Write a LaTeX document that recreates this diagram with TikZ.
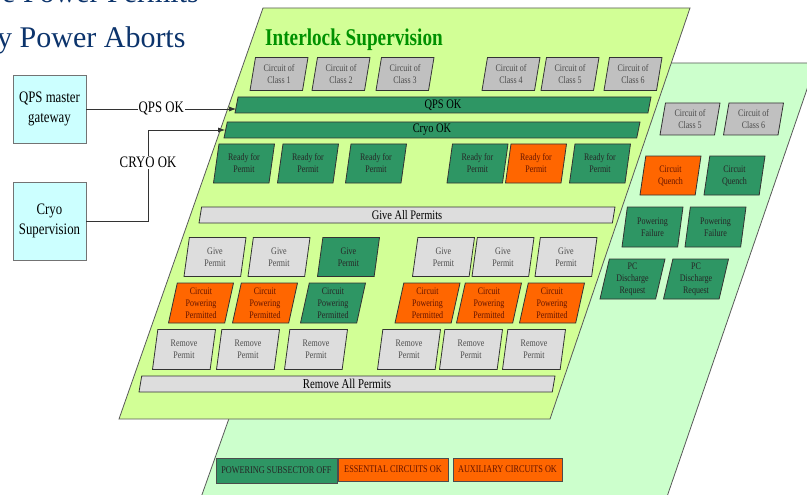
\documentclass[tikz,border=0pt]{standalone}
\usepackage{fontspec}
\setmainfont{Liberation Serif}
\newfontfamily\dfont[FakeStretch=0.8]{Liberation Serif}
\usetikzlibrary{shapes.geometric,arrows.meta}
\definecolor{frontgreen}{RGB}{210,255,150}
\definecolor{backgreen}{RGB}{204,255,204}
\definecolor{permitgreen}{RGB}{46,150,100}
\definecolor{permitorange}{RGB}{255,102,0}
\definecolor{classgray}{RGB}{192,192,192}
\definecolor{permitgray}{RGB}{221,221,221}
\definecolor{gatecyan}{RGB}{204,255,255}
\definecolor{slidenavy}{RGB}{12,52,108}
\definecolor{titlegreen}{RGB}{0,145,0}
\definecolor{orangetext}{RGB}{100,20,0}
\newcommand\boxfont{\dfont\fontsize{10}{12}\selectfont}

\begin{document}
\begin{tikzpicture}[x=1pt,y=-1pt,
  plane/.style={draw=black!65,line width=0.8pt},
  pbox/.style={trapezium,trapezium left angle=74,trapezium right angle=106,
    trapezium stretches body=true,draw=black!80,line width=0.8pt,inner sep=0pt,
    align=center,minimum width=62,minimum height=39,font=\boxfont},
  classbox/.style={pbox,fill=classgray,text=black!70,minimum width=58,minimum height=33},
  greybox/.style={pbox,fill=permitgray,text=black!70},
  greenbox/.style={pbox,fill=permitgreen,text=black!85},
  orangebox/.style={pbox,fill=permitorange,text=orangetext},
  bar/.style={pbox,minimum width=416,minimum height=16,font=\dfont\fontsize{13}{14}\selectfont},
  gate/.style={rectangle,draw=black!55,line width=0.8pt,fill=gatecyan,minimum width=73,
    align=center,font=\dfont\fontsize{16}{20}\selectfont},
  legend/.style={rectangle,draw=black!70,line width=0.8pt,inner sep=1pt,
    font=\dfont\fontsize{10.3}{12}\selectfont},
  conn/.style={draw=black!80,line width=0.8pt,-{Latex[length=7pt,width=5pt]}},
  connlabel/.style={fill=white,inner sep=1pt,font=\dfont\fontsize{16}{18}\selectfont}]

\useasboundingbox (0,0) rectangle (807,495);

% slide title, cut by the page edge
\node[anchor=base west,inner sep=0,text=slidenavy,font=\fontsize{30}{36}\selectfont] (title1) at (2,3) {e Power Permits};
\node[anchor=base west,inner sep=0,text=slidenavy,font=\fontsize{30}{36}\selectfont] (title2) at (-3,48) {y Power Aborts};

% the two planes
\draw[plane,fill=backgreen] (355,63) -- (816,63) -- (659,520) -- (193,520) -- cycle;
\draw[plane,fill=frontgreen] (263,8) -- (690,8) -- (550,419) -- (119,419) -- cycle;

\node[anchor=base west,inner sep=0,text=titlegreen,font=\dfont\bfseries\fontsize{24}{28}\selectfont] (interlock) at (265,46) {Interlock Supervision};

% circuit classes
\node[classbox] (class1) at (279,74) {Circuit of\\Class 1};
\node[classbox] (class2) at (341,74) {Circuit of\\Class 2};
\node[classbox] (class3) at (405,74) {Circuit of\\Class 3};
\node[classbox] (class4) at (511,74) {Circuit of\\Class 4};
\node[classbox] (class5) at (570,74) {Circuit of\\Class 5};
\node[classbox] (class6) at (633,74) {Circuit of\\Class 6};

\node[bar,fill=permitgreen] (qpsbar) at (443,105) {QPS OK};
\node[bar,fill=permitgreen] (cryobar) at (432,130) {Cryo OK};

% ready for permit
\node[greenbox,minimum width=61] (ready1) at (244,163.5) {Ready for\\Permit};
\node[greenbox,minimum width=61] (ready2) at (308,163.5) {Ready for\\Permit};
\node[greenbox,minimum width=61] (ready3) at (376,163.5) {Ready for\\Permit};
\node[greenbox,minimum width=61] (ready4) at (477.5,163.5) {Ready for\\Permit};
\node[orangebox,minimum width=61] (ready5) at (536,163.5) {Ready for\\Permit};
\node[greenbox,minimum width=61] (ready6) at (600,163.5) {Ready for\\Permit};

\node[bar,fill=permitgray] (giveall) at (407,215) {Give All Permits};

% give permit
\node[greybox] (give1) at (215,257) {Give\\Permit};
\node[greybox] (give2) at (279,257) {Give\\Permit};
\node[greenbox] (give3) at (348.5,257) {Give\\Permit};
\node[greybox] (give4) at (443.5,257) {Give\\Permit};
\node[greybox] (give5) at (503,257) {Give\\Permit};
\node[greybox] (give6) at (566,257) {Give\\Permit};

% circuit powering permitted
\node[orangebox,minimum width=65,minimum height=40] (cpp1) at (201,303) {Circuit\\Powering\\Permitted};
\node[orangebox,minimum width=65,minimum height=40] (cpp2) at (265,303) {Circuit\\Powering\\Permitted};
\node[greenbox,minimum width=65,minimum height=40] (cpp3) at (333,303) {Circuit\\Powering\\Permitted};
\node[orangebox,minimum width=65,minimum height=40] (cpp4) at (427.5,303) {Circuit\\Powering\\Permitted};
\node[orangebox,minimum width=65,minimum height=40] (cpp5) at (489,303) {Circuit\\Powering\\Permitted};
\node[orangebox,minimum width=65,minimum height=40] (cpp6) at (552,303) {Circuit\\Powering\\Permitted};

% remove permit
\node[greybox,minimum width=63,minimum height=40] (remove1) at (184,349.5) {Remove\\Permit};
\node[greybox,minimum width=63,minimum height=40] (remove2) at (248,349.5) {Remove\\Permit};
\node[greybox,minimum width=63,minimum height=40] (remove3) at (316,349.5) {Remove\\Permit};
\node[greybox,minimum width=63,minimum height=40] (remove4) at (409,349.5) {Remove\\Permit};
\node[greybox,minimum width=63,minimum height=40] (remove5) at (471,349.5) {Remove\\Permit};
\node[greybox,minimum width=63,minimum height=40] (remove6) at (534,349.5) {Remove\\Permit};

\node[bar,fill=permitgray,font=\dfont\fontsize{13.5}{14}\selectfont] (removeall) at (347,384) {Remove All Permits};

% back plane
\node[classbox,minimum width=60,minimum height=32] (bclass5) at (690,119) {Circuit of\\Class 5};
\node[classbox,minimum width=60,minimum height=32] (bclass6) at (753.5,119) {Circuit of\\Class 6};
\node[orangebox,minimum width=61] (quench1) at (670.5,175.5) {Circuit\\Quench};
\node[greenbox,minimum width=61] (quench2) at (734.5,175.5) {Circuit\\Quench};
\node[greenbox,minimum width=61,minimum height=40] (failure1) at (652.5,227) {Powering\\Failure};
\node[greenbox,minimum width=61,minimum height=40] (failure2) at (715.5,227) {Powering\\Failure};
\node[greenbox,minimum width=65,minimum height=40] (discharge1) at (632.5,279) {PC\\Discharge\\Request};
\node[greenbox,minimum width=65,minimum height=40] (discharge2) at (696,279) {PC\\Discharge\\Request};

% legend
\node[legend,fill=permitgreen,text=black!85,minimum width=121,minimum height=25] (subsector) at (276.5,470.5) {POWERING SUBSECTOR OFF};
\node[legend,fill=permitorange,text=orangetext,minimum width=110,minimum height=23] (essential) at (393,469.5) {ESSENTIAL CIRCUITS OK};
\node[legend,fill=permitorange,text=orangetext,minimum width=109,minimum height=23] (auxiliary) at (507.5,469.5) {AUXILIARY CIRCUITS OK};

% inputs
\node[gate,minimum height=68] (gateway) at (49.5,109) {QPS master\\gateway};
\node[gate,minimum height=78] (cryo) at (49.5,221) {Cryo\\Supervision};
\coordinate (cryobend) at (148,130);

\draw[conn] (gateway.east) -- node[connlabel] {QPS OK} (gateway.east -| qpsbar.west);
\draw[conn] (cryo.east) -| node[connlabel,pos=0.82] {CRYO OK} (cryobend) -- (cryobend -| cryobar.west);
\end{tikzpicture}
\end{document}
